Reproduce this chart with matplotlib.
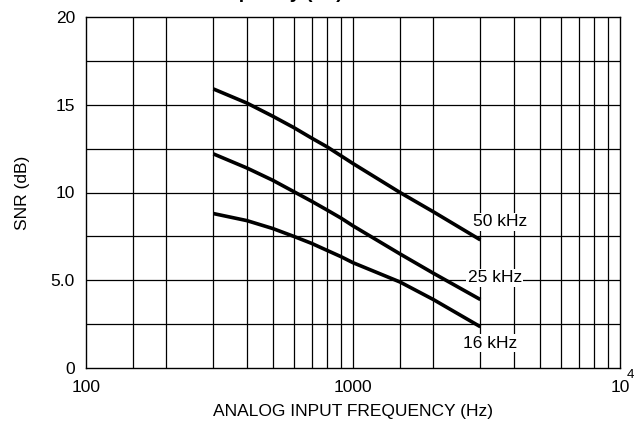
import matplotlib
matplotlib.use("Agg")
import matplotlib.pyplot as plt
from matplotlib import font_manager as fm
import numpy as np

# ---- data ----
freq = [300, 400, 500, 600, 700, 800, 900, 1000, 1500, 2000, 3000]
snr_50k = [15.9, 15.1, 14.35, 13.7, 13.1, 12.6, 12.1, 11.65, 10.0, 8.9, 7.3]
snr_25k = [12.2, 11.4, 10.7, 10.05, 9.5, 9.0, 8.55, 8.1, 6.5, 5.4, 3.9]
snr_16k = [8.8, 8.4, 7.95, 7.5, 7.1, 6.7, 6.35, 6.0, 4.9, 3.9, 2.35]
curve_labels = ["50 kHz", "25 kHz", "16 kHz"]
label_pos = [(3556, 8.32), (3400, 5.13), (3250, 1.42)]
xticks = [100, 1000, 10000]
xticklabels = ["100", "1000", "10"]
xtick_exponent = "4"
yticks = [0, 5, 10, 15, 20]
yticklabels = ["0", "5.0", "10", "15", "20"]
xgrid = [150, 200, 300, 400, 500, 600, 700, 800, 900, 1000,
         1500, 2000, 3000, 4000, 5000, 6000, 7000, 8000, 9000]
ygrid = [2.5, 5, 7.5, 10, 12.5, 15, 17.5]

def pick(names):
    for n in names:
        try:
            fm.findfont(fm.FontProperties(family=n), fallback_to_default=False)
            return n
        except Exception:
            pass
    return "DejaVu Sans"

narrow = pick(["Liberation Sans Narrow", "Arial Narrow", "Liberation Sans"])
boldf = pick(["Liberation Sans", "Arial"])
plt.rcParams["font.family"] = [narrow, "DejaVu Sans"]

FS = 12.5

fig = plt.figure(figsize=(6.34, 4.29), dpi=100)
L, R, T, B = 86, 620, 17, 368
W, H = 634, 429
ax = fig.add_axes([L / W, 1 - B / H, (R - L) / W, (B - T) / H])
ax.set_xscale("log")
ax.set_xlim(100, 10000)
ax.set_ylim(0, 20)

for g in xgrid:
    ax.axvline(g, color="black", lw=0.9, zorder=1)
for g in ygrid:
    ax.axhline(g, color="black", lw=0.9, zorder=1)

for s in [snr_50k, snr_25k, snr_16k]:
    ax.plot(freq, s, color="black", lw=2.6, solid_capstyle="butt", zorder=3)

for lab, (xx, yy) in zip(curve_labels, label_pos):
    ax.text(xx, yy, lab, ha="center", va="center", fontsize=FS,
            bbox=dict(facecolor="white", edgecolor="none", pad=1.0), zorder=4)

ax.set_xticks(xticks)
ax.set_xticklabels(xticklabels)
ax.xaxis.set_minor_locator(matplotlib.ticker.NullLocator())
ax.set_yticks(yticks)
ax.set_yticklabels(yticklabels)
ax.tick_params(axis="both", length=0, labelsize=FS)
ax.tick_params(axis="x", pad=9)
ax.tick_params(axis="y", pad=8)
for sp in ax.spines.values():
    sp.set_linewidth(1.0)
    sp.set_color("black")

# superscript exponent of the 10^4 tick label
ax.annotate(xtick_exponent, xy=(xticks[-1], 0), xycoords="data",
            xytext=(5.0, -0.5), textcoords="offset points",
            ha="left", va="top", fontsize=9.5, annotation_clip=False)

ax.set_xlabel("ANALOG INPUT FREQUENCY (Hz)", fontsize=FS, labelpad=6)
ax.set_ylabel("SNR (dB)", fontsize=FS, labelpad=15)

fig.text(343 / W, 1 + 2.0 / H, "Frequency (Hz)", ha="right", va="baseline",
         fontsize=14, fontweight="bold", family=[boldf, "DejaVu Sans"])

fig.savefig("out.png", dpi=100)
